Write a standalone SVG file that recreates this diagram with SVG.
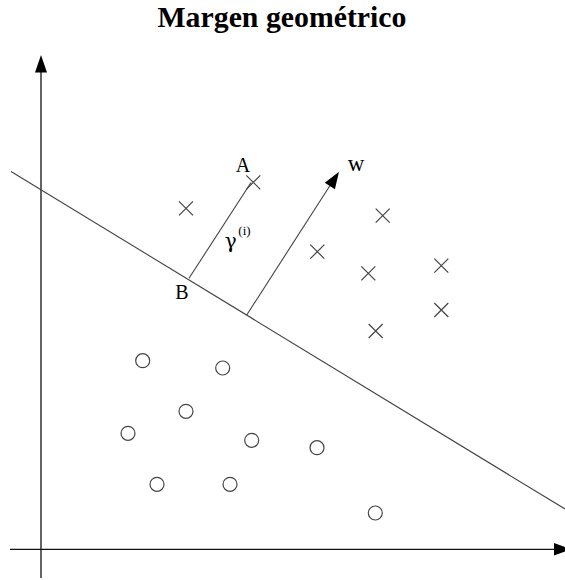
<svg xmlns="http://www.w3.org/2000/svg" width="565" height="580" viewBox="0 0 565 580">
<style>
.t{font-family:"Liberation Serif","DejaVu Serif",serif;fill:#000}
.x{stroke:#444;stroke-width:1.2}
.o{fill:none;stroke:#444;stroke-width:1.2}
.ln{stroke:#444;stroke-width:1.1;fill:none}
</style>
<rect width="565" height="580" fill="#fff"/>
<text class="t" x="282" y="27" text-anchor="middle" font-size="29" font-weight="bold" textLength="249" lengthAdjust="spacingAndGlyphs">Margen geométrico</text>
<g id="connectors">
<line x1="41" y1="578" x2="41" y2="70" stroke="#111" stroke-width="1.3"/>
<polygon points="41,55 35,72.5 47,72.5" fill="#000"/>
<line x1="10" y1="549.3" x2="556" y2="549.3" stroke="#111" stroke-width="1.3"/>
<polygon points="571,549.3 554,543 554,555.6" fill="#000"/>
<line class="ln" x1="11" y1="171.5" x2="565" y2="509"/>
<line class="ln" x1="189" y1="278.3" x2="251" y2="182.5"/>
<line class="ln" x1="246.7" y1="315" x2="331" y2="184"/>
<polygon points="339,171.7 324.8,182.8 334.9,189.3" fill="#000"/>
</g>
<g id="crosses">
<path class="x" d="M246.3,175.3l14,14m0,-14l-14,14"/>
<path class="x" d="M179,201.3l14,14m0,-14l-14,14"/>
<path class="x" d="M375.7,208.7l14,14m0,-14l-14,14"/>
<path class="x" d="M310.3,244.7l14,14m0,-14l-14,14"/>
<path class="x" d="M361.3,266.3l14,14m0,-14l-14,14"/>
<path class="x" d="M434.3,258.7l14,14m0,-14l-14,14"/>
<path class="x" d="M434.3,303l14,14m0,-14l-14,14"/>
<path class="x" d="M368.7,324l14,14m0,-14l-14,14"/>
</g>
<g id="circles">
<circle class="o" cx="142.7" cy="360.7" r="7"/>
<circle class="o" cx="222.7" cy="368" r="7"/>
<circle class="o" cx="186" cy="411.3" r="7"/>
<circle class="o" cx="128" cy="433.3" r="7"/>
<circle class="o" cx="251.7" cy="440.3" r="7"/>
<circle class="o" cx="317" cy="447.7" r="7"/>
<circle class="o" cx="157" cy="484.3" r="7"/>
<circle class="o" cx="230" cy="484.3" r="7"/>
<circle class="o" cx="375.3" cy="513" r="7"/>
</g>
<g id="labels">
<text class="t" x="243" y="171.7" text-anchor="middle" font-size="20">A</text>
<text class="t" x="356" y="171" text-anchor="middle" font-size="23">w</text>
<text x="230.7" y="248" text-anchor="middle" font-size="20" font-family="DejaVu Serif, serif">γ</text>
<text class="t" x="244.5" y="235" text-anchor="middle" font-size="13">(i)</text>
<text class="t" x="182" y="299.3" text-anchor="middle" font-size="20">B</text>
</g>
</svg>
